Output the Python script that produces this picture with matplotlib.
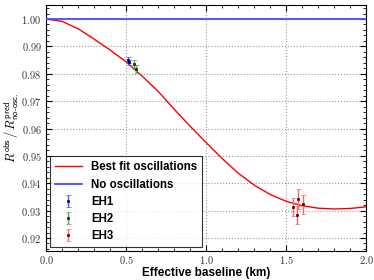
import numpy as np
import matplotlib
matplotlib.use("Agg")
import matplotlib.pyplot as plt
from matplotlib.ticker import MultipleLocator, FormatStrFormatter

plt.rcParams['mathtext.fontset'] = 'cm'

# best fit curve
fit_L = [0.0, 0.1, 0.2, 0.3, 0.4, 0.5, 0.6, 0.7, 0.8, 0.9, 1.0,
         1.1, 1.2, 1.3, 1.4, 1.5, 1.6, 1.7, 1.8, 1.9, 2.0]
fit_R = [1.0000, 0.9991, 0.9964, 0.9926, 0.9886, 0.9843, 0.9791, 0.9735,
         0.9670, 0.9608, 0.9548, 0.9490, 0.9437, 0.9393, 0.9359, 0.9334,
         0.9318, 0.9309, 0.9306, 0.9308, 0.9314]

# data points per experimental hall
eh1_L = [0.509, 0.519]
eh1_R = [0.9850, 0.9842]
eh1_err = [0.0010, 0.0010]

eh2_L = [0.549, 0.561]
eh2_R = [0.9834, 0.9816]
eh2_err = [0.0015, 0.0015]

eh3_L = [1.540, 1.568, 1.571, 1.603]
eh3_R = [0.9312, 0.9284, 0.9343, 0.9323]
eh3_err = [0.0033, 0.0033, 0.0037, 0.0034]

fig = plt.figure(figsize=(3.74, 2.8), dpi=100)
ax = fig.add_axes([0.124, 0.104, 0.855, 0.878])

ax.plot(fit_L, fit_R, color='red', lw=1.0, label='Best fit oscillations', zorder=3)
ax.axhline(1.0, color='#4a4aff', lw=1.3, label='No oscillations', zorder=3)

for L, R, e, c, mc, name in [(eh1_L, eh1_R, eh1_err, '#5555ff', '#000066', 'EH1'),
                             (eh2_L, eh2_R, eh2_err, '#55aa55', '#003300', 'EH2'),
                             (eh3_L, eh3_R, eh3_err, '#ff6666', '#550000', 'EH3')]:
    ax.errorbar(L, R, yerr=e, fmt='s', ms=1.6, mfc=mc, mec=mc, mew=0.5, ecolor=c,
                elinewidth=1.0, capsize=1.8, capthick=0.9, label=name, zorder=4)

ax.set_xlim(0, 2.0)
ax.set_ylim(0.9153, 1.0051)
ax.xaxis.set_major_locator(MultipleLocator(0.5))
ax.xaxis.set_minor_locator(MultipleLocator(0.1))
ax.yaxis.set_major_locator(MultipleLocator(0.01))
ax.yaxis.set_minor_locator(MultipleLocator(0.002))
ax.xaxis.set_major_formatter(FormatStrFormatter('$%.1f$'))
ax.yaxis.set_major_formatter(FormatStrFormatter('$%.2f$'))
ax.tick_params(which='both', direction='in', top=True, right=True, labelsize=7.5,
               labelcolor='#333333')
ax.tick_params(which='major', length=4)
ax.tick_params(which='minor', length=2)
ax.tick_params(axis='x', pad=2.5)
ax.grid(True, which='major', color='#999999', ls=':', lw=0.8)

ax.set_xlabel('Effective baseline (km)', fontsize=8.5, fontweight='bold',
              family='Liberation Sans', labelpad=0.5)
ax.set_ylabel(r'$R^{\mathsf{obs}}\,/\,R^{\mathsf{pred}}_{\mathsf{no\text{-}osc.}}$',
              fontsize=9, labelpad=0)

leg = ax.legend(loc='lower left', frameon=True, fancybox=False,
                edgecolor='black', borderaxespad=0.3, labelspacing=0.45,
                handlelength=2.3, borderpad=0.45,
                prop={'family': 'Liberation Sans', 'weight': 'bold', 'size': 8.3})
leg.get_frame().set_linewidth(0.8)

fig.savefig('out.png', dpi=100)
